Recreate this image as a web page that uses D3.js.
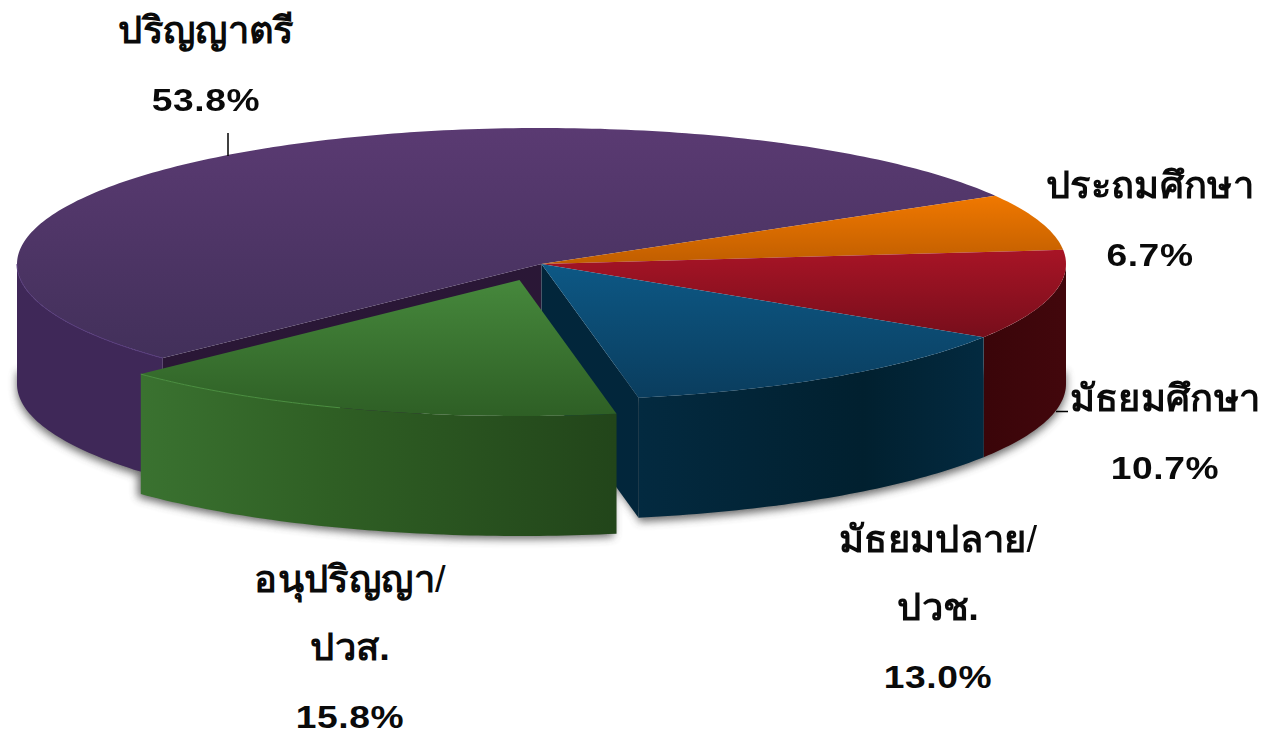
<!DOCTYPE html>
<html>
<head>
<meta charset="utf-8">
<script src="https://cdn.jsdelivr.net/npm/d3@7"></script>
<style>
  html, body { margin: 0; background: #fff; }
  text { font-family: "Liberation Sans", "Noto Sans", "DejaVu Sans", sans-serif; font-weight: bold; fill: #0a0a0a; text-anchor: middle; }
</style>
</head>
<body>
<svg id="chart" width="1266" height="734"></svg>
<script>
// Data
const categories = ["ประถมศึกษา", "มัธยมศึกษา", "มัธยมปลาย/ ปวช.", "อนุปริญญา/ ปวส.", "ปริญญาตรี"];
const shares = [6.7, 10.7, 13.0, 15.8, 53.8];

// Layout of the fake 3D disc
const cx = 541.5, cy = 264, rx = 524.5, ry = 136, depth = 120;
const startDeg = 59.9;
const greenShift = { x: -22, y: 16 };

const colors = [
  { top: ["#f07800", "#c05e00"], wall: ["#7a3d00", "#7a3d00"] },
  { top: ["#a81426", "#770e1b"], wall: ["#3a0509", "#42070c"] },
  { top: ["#0d5885", "#0a3d5e"], wall: ["#01202f", "#032a40"], side: "#02263b" },
  { top: ["#46883c", "#2e5f25"], wall: ["#3a7230", "#22451a"], rim: "#4c9141" },
  { top: ["#5a3a72", "#42305a"], wall: ["#472f60", "#3f2858"], side: "#2a1736", rim: "#573b7c" }
];

const svg = d3.select("#chart");
const defs = svg.append("defs");

defs.append("filter").attr("id", "blur")
  .attr("x", "-10%").attr("y", "-10%").attr("width", "120%").attr("height", "120%")
  .append("feGaussianBlur").attr("stdDeviation", 4);
defs.append("clipPath").attr("id", "shadowClip")
  .append("rect").attr("x", 0).attr("y", 372).attr("width", 1266).attr("height", 362);

// Screen scales: unit circle -> ellipse
const px = d3.scaleLinear().domain([-1, 1]).range([cx - rx, cx + rx]);
const py = d3.scaleLinear().domain([-1, 1]).range([cy - ry, cy + ry]);
const line = d3.line();

const slices = d3.pie().sort(null)
  .startAngle(startDeg * Math.PI / 180)
  .endAngle(startDeg * Math.PI / 180 + 2 * Math.PI)(shares);

function point(a, dx, dy) {
  return [px(Math.sin(a)) + dx, py(-Math.cos(a)) + dy];
}

function arcPoints(a0, a1, dx, dy) {
  const n = Math.max(2, Math.ceil((a1 - a0) * 60));
  return d3.range(n + 1).map(i => point(a0 + (a1 - a0) * i / n, dx, dy));
}

slices.forEach((s, i) => {
  const c = colors[i];
  s.dx = i === 3 ? greenShift.x : 0;
  s.dy = i === 3 ? greenShift.y : 0;

  // top gradient runs over the slice's own height
  const ys = arcPoints(s.startAngle, s.endAngle, s.dx, s.dy).map(p => p[1]).concat(cy + s.dy);
  const tg = defs.append("linearGradient").attr("id", "top" + i)
    .attr("gradientUnits", "userSpaceOnUse")
    .attr("x1", 0).attr("x2", 0).attr("y1", d3.min(ys)).attr("y2", d3.max(ys));
  tg.append("stop").attr("offset", 0).attr("stop-color", c.top[0]);
  tg.append("stop").attr("offset", 1).attr("stop-color", c.top[1]);

  const wg = defs.append("linearGradient").attr("id", "wall" + i)
    .attr("gradientUnits", "userSpaceOnUse")
    .attr("x1", point(s.endAngle, s.dx, 0)[0]).attr("x2", point(s.startAngle, s.dx, 0)[0])
    .attr("y1", 0).attr("y2", 0);
  if (i === 2) {
    wg.attr("x1", 637).attr("x2", 985);
    wg.append("stop").attr("offset", 0).attr("stop-color", "#032a40");
    wg.append("stop").attr("offset", 0.65).attr("stop-color", "#01202f");
    wg.append("stop").attr("offset", 1).attr("stop-color", "#032a40");
  } else if (i === 3) {
    wg.append("stop").attr("offset", 0).attr("stop-color", c.wall[0]);
    wg.append("stop").attr("offset", 0.4).attr("stop-color", "#2f5f24");
    wg.append("stop").attr("offset", 1).attr("stop-color", c.wall[1]);
  } else {
    wg.append("stop").attr("offset", 0).attr("stop-color", c.wall[0]);
    wg.append("stop").attr("offset", 1).attr("stop-color", c.wall[1]);
  }
});

// Front wall = part of the arc that faces the viewer
function wallPath(s) {
  const a0 = Math.max(s.startAngle, Math.PI / 2);
  const a1 = Math.min(s.endAngle, 3 * Math.PI / 2);
  if (a1 <= a0) return null;
  const upper = arcPoints(a0, a1, s.dx, s.dy);
  const lower = arcPoints(a0, a1, s.dx, s.dy + depth).reverse();
  return line(upper.concat(lower)) + "Z";
}

function topPath(s) {
  const apex = [cx + s.dx, cy + s.dy];
  return line([apex].concat(arcPoints(s.startAngle, s.endAngle, s.dx, s.dy))) + "Z";
}

function sidePath(s, a) {
  const p = point(a, s.dx, s.dy);
  const apex = [cx + s.dx, cy + s.dy];
  return line([apex, p, [p[0], p[1] + depth], [apex[0], apex[1] + depth]]) + "Z";
}

// Shadow under the front walls, clipped first so the blur softens the cut
const shadow = svg.append("g").attr("filter", "url(#blur)").attr("opacity", 0.8)
  .append("g").attr("clip-path", "url(#shadowClip)");
shadow.selectAll("path.w")
  .data(slices.filter(s => wallPath(s)))
  .join("path")
  .attr("class", "w")
  .attr("d", wallPath)
  .attr("fill", "#444")
  .attr("transform", d => d.index === 3 ? "translate(-3,3)" : "translate(0,4)");
shadow.append("path")
  .attr("d", sidePath(slices[2], slices[2].endAngle)).attr("fill", "#444")
  .attr("transform", "translate(3,4)");

// Back to front: purple, orange, red, blue, green
[4, 0, 1, 2, 3].forEach(i => {
  const s = slices[i], c = colors[i];
  const g = svg.append("g").attr("class", "slice");
  if (i === 4) g.append("path").attr("d", sidePath(s, s.startAngle)).attr("fill", c.side);
  if (i === 2) g.append("path").attr("d", sidePath(s, s.endAngle)).attr("fill", c.side);
  const w = wallPath(s);
  if (w) g.append("path").attr("d", w).attr("fill", `url(#wall${i})`);
  g.append("path").attr("d", topPath(s)).attr("fill", `url(#top${i})`);
  if (c.rim) {
    // light rim only on the left part of the front edge
    const a0 = Math.max(s.startAngle, 200 * Math.PI / 180), a1 = Math.min(s.endAngle, 3 * Math.PI / 2);
    g.append("path").attr("d", line(arcPoints(a0, a1, s.dx, s.dy)))
      .attr("fill", "none").attr("stroke", c.rim).attr("stroke-width", 1);
  }
});

// Leader lines
svg.append("line").attr("x1", 228).attr("x2", 228).attr("y1", 133).attr("y2", 156).attr("stroke", "#000").attr("stroke-width", 1.5);
svg.append("line").attr("x1", 1056).attr("x2", 1068).attr("y1", 411.5).attr("y2", 411.5).attr("stroke", "#000").attr("stroke-width", 1.5);

// Labels, one text per line
const labelSpots = [
  { x: 1150, y: 198 }, { x: 1165, y: 411.5 }, { x: 938, y: 552 }, { x: 350, y: 592 }, { x: 206, y: 43.5 }
];
categories.forEach((name, i) => {
  const lines = name.split(" ").concat(shares[i].toFixed(1) + "%");
  lines.forEach((t, j) => {
    const isValue = j === lines.length - 1;
    const sx = isValue ? 1.2 : 1.03;
    const spot = labelSpots[i];
    const el = svg.append("text")
      .attr("x", spot.x).attr("y", spot.y + j * 68)
      .attr("font-size", isValue ? 31 : 37)
      .attr("letter-spacing", isValue ? 0.5 : 0)
      .attr("transform", `translate(${spot.x * (1 - sx)},0) scale(${sx},1)`);
    el.append("tspan").text(t.replace("/", ""));
    if (t.endsWith("/")) el.append("tspan").attr("font-weight", "normal").text("/");
  });
});
</script>
</body>
</html>
